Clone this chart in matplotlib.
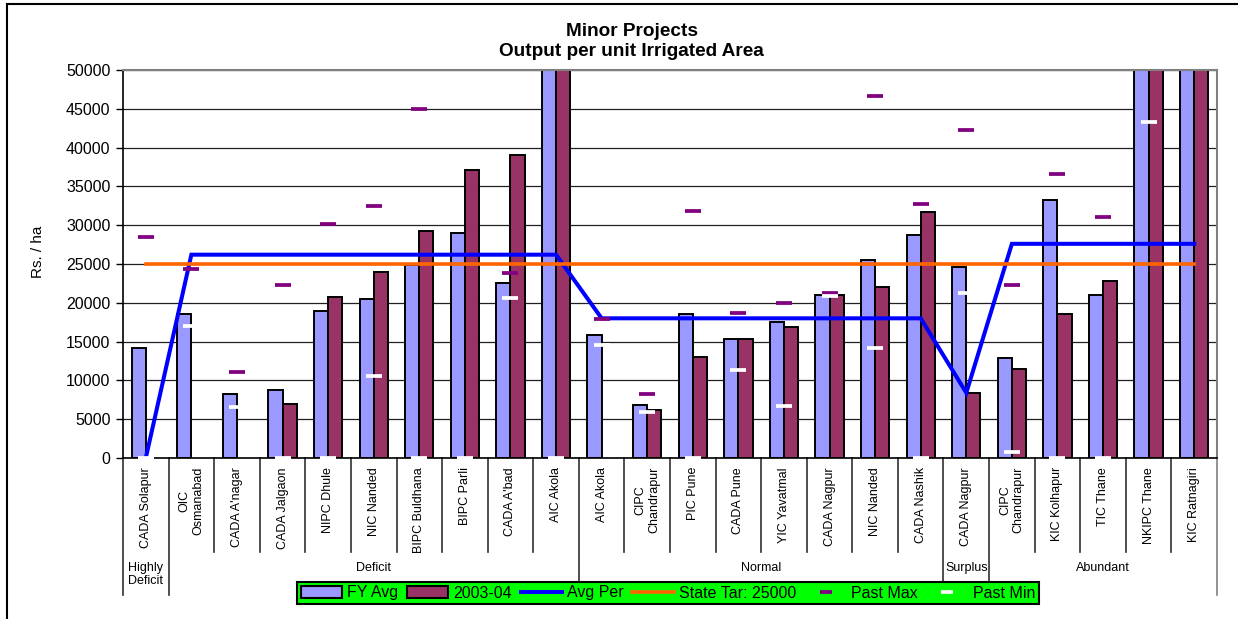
import numpy as np
import matplotlib
matplotlib.use("Agg")
import matplotlib.pyplot as plt
from matplotlib.patches import Patch
from matplotlib.lines import Line2D

plt.rcParams['font.family'] = ['Liberation Sans', 'DejaVu Sans']

nan = np.nan

categories = ["CADA Solapur", "OIC\nOsmanabad", "CADA A'nagar", "CADA Jalgaon",
              "NIPC Dhule", "NIC Nanded", "BIPC Buldhana", "BIPC Parli",
              "CADA A'bad", "AIC Akola", "AIC Akola", "CIPC\nChandrapur",
              "PIC Pune", "CADA Pune", "YIC Yavatmal", "CADA Nagpur",
              "NIC Nanded", "CADA Nashik", "CADA Nagpur", "CIPC\nChandrapur",
              "KIC Kolhapur", "TIC Thane", "NKIPC Thane", "KIC Ratnagiri"]

groups = ["Highly\nDeficit", "Deficit", "Normal", "Surplus", "Abundant"]
group_sizes = [1, 9, 8, 1, 5]

fy_avg = [14200, 18500, 8250, 8700, 19000, 20500, 24900, 28950, 22500, 62000,
          15850, 6870, 18600, 15300, 17500, 21000, 25550, 28750, 24550, 12950,
          33250, 21000, 65000, 70000]
y2003_04 = [nan, nan, nan, 6950, 20800, 24000, 29200, 37100, 39050, 60000,
            nan, 6250, 13050, 15300, 16900, 21000, 22100, 31650, 8400, 11500,
            18500, 22800, 68000, 72000]
group_avg = [0, 26200, 18000, 8400, 27600]
state_target = 25000
past_max = [28500, 24350, 11100, 22300, 30200, 32500, 45000, nan, 23900, nan,
            17900, 8250, 31850, 18750, 19950, 21200, 46650, 32750, 42250, 22250,
            36550, 31050, nan, nan]
past_min = [0, 17050, 6550, 0, 0, 10600, 0, 0, 20600, 0,
            14600, 5950, 0, 11300, 6750, 20900, 14200, 0, 21300, 750,
            0, 0, 43300, nan]

yticks = list(range(0, 50001, 5000))

W, H = 1238, 619
fig = plt.figure(figsize=(W / 100, H / 100), dpi=100)
L, R, T, B = 123, 1217, 70, 458
ax = fig.add_axes([L / W, 1 - B / H, (R - L) / W, (B - T) / H])

n = len(categories)
x = np.arange(n)
bw = 0.31

# average per group, repeated over each member of the group
avg_per = np.repeat(group_avg, group_sizes)

ax.bar(x - bw / 2, fy_avg, width=bw, color='#9999FF', edgecolor='black',
       linewidth=1.4, zorder=2)
ax.bar(x + bw / 2, y2003_04, width=bw, color='#993366', edgecolor='black',
       linewidth=1.4, zorder=2)
ax.plot(x, avg_per, color='#0000FF', lw=2.9, zorder=3, solid_joinstyle='miter')
ax.plot(x, [state_target] * n, color='#FF6600', lw=2.6, zorder=4)
ax.plot(x, past_max, ls='none', marker='_', ms=11.5, mew=2.7,
        color='#800080', zorder=5)
ax.plot(x, past_min, ls='none', marker='_', ms=11.5, mew=2.7,
        color='white', zorder=5, clip_on=False)

ax.set_xlim(-0.5, n - 0.5)
ax.set_ylim(0, 50000)
ax.set_yticks(yticks)
ax.set_yticklabels([str(v) for v in yticks], fontsize=11.5)
ax.tick_params(axis='y', direction='out', length=5, width=1, pad=4)
ax.yaxis.grid(True, color='#202020', lw=0.9, zorder=0)
ax.set_axisbelow(True)

ax.set_xticks(x)
ax.set_xticklabels(categories, rotation=90, fontsize=9, va='top', ha='center',
                   multialignment='center')
ax.tick_params(axis='x', length=0, pad=6.5)

for s in ('top', 'right'):
    ax.spines[s].set_color('#808080')
    ax.spines[s].set_linewidth(1.5)
ax.spines['left'].set_linewidth(1.2)
ax.spines['bottom'].set_linewidth(1.2)

# category and group separators below the axis
trans = ax.get_xaxis_transform()
px = 1.0 / (B - T)
cat_bottom = -(552 - B) * px
grp_bottom = -(595 - B) * px
bounds = np.cumsum([0] + group_sizes) - 0.5
for b in np.arange(n + 1) - 0.5:
    if b in bounds:
        col = '#808080' if b == n - 0.5 else '#303030'
        ax.plot([b, b], [0, grp_bottom], color=col, lw=1.2,
                transform=trans, clip_on=False, zorder=1)
    else:
        ax.plot([b, b], [0, cat_bottom], color='#303030', lw=1.2,
                transform=trans, clip_on=False, zorder=1)

grp_label_y = -(562 - B) * px
for g, lo, hi in zip(groups, bounds[:-1], bounds[1:]):
    ax.text((lo + hi) / 2, grp_label_y, g, transform=trans, ha='center',
            va='top', fontsize=9, multialignment='center', linespacing=1.15)

fig.text(631.7 / W, 1 - 41.5 / H, "Minor Projects\nOutput per unit Irrigated Area",
         ha='center', va='center', fontsize=13.7, fontweight='bold',
         linespacing=1.2)
fig.text(38 / W, 1 - 252 / H, "Rs. / ha", rotation=90, ha='center',
         va='center', fontsize=11)

handles = [
    Patch(facecolor='#9999FF', edgecolor='black', linewidth=1.5),
    Patch(facecolor='#993366', edgecolor='black', linewidth=1.5),
    Line2D([], [], color='#0000FF', lw=2.9),
    Line2D([], [], color='#FF6600', lw=2.6),
    Line2D([], [], ls='none', marker='_', ms=9, mew=2.7, color='#800080'),
    Line2D([], [], ls='none', marker='_', ms=9, mew=2.7, color='white'),
]
labels = ["FY Avg", "2003-04", "Avg Per", "State Tar: 25000", "Past Max", "Past Min"]
leg = fig.legend(handles, labels, loc='center', bbox_to_anchor=(668 / W, 1 - 593 / H),
                 ncol=6, fontsize=11.5, frameon=True, fancybox=False,
                 facecolor='#00FF00', edgecolor='black', framealpha=1,
                 handlelength=2.6, handleheight=0.7, handletextpad=0.3,
                 columnspacing=0.55, borderpad=0.25, borderaxespad=0)
leg.get_frame().set_linewidth(1.5)

# outer chart frame (top and left edges)
fig.add_artist(Line2D([7 / W, 1], [1 - 4 / H, 1 - 4 / H], color='black', lw=1.5,
                      transform=fig.transFigure))
fig.add_artist(Line2D([7 / W, 7 / W], [0, 1 - 4 / H], color='black', lw=1.5,
                      transform=fig.transFigure))

fig.savefig("out.png", dpi=100)
